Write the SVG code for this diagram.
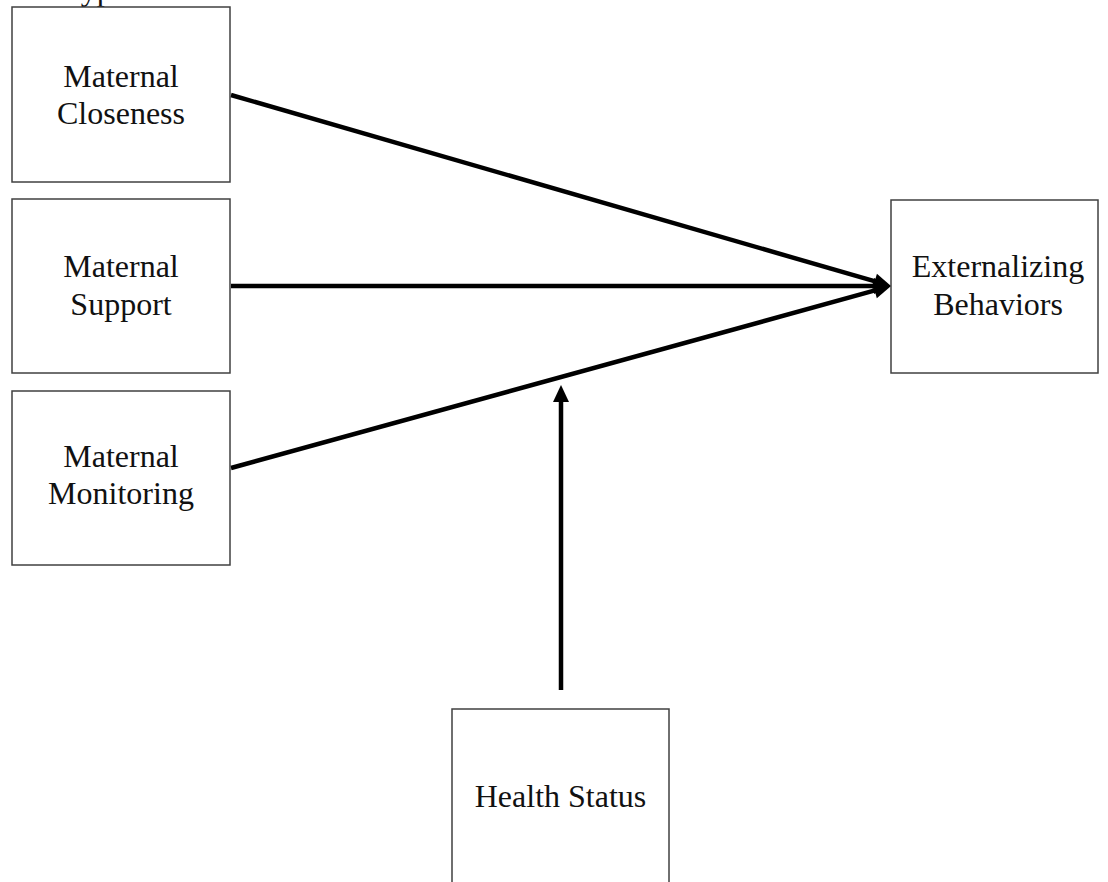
<svg xmlns="http://www.w3.org/2000/svg" width="1108" height="882" viewBox="0 0 1108 882">
<style>
  .box { fill: #ffffff; stroke: #404040; stroke-width: 1.5; }
  .lbl { font-family: "Liberation Serif", "Times New Roman", serif; font-size: 32px; fill: #111111; text-anchor: middle; }
  .title { font-family: "Liberation Serif", "Times New Roman", serif; font-size: 32px; fill: #111111; }
  .conn { stroke: #000000; stroke-width: 4.5; fill: none; marker-end: url(#arrow); }
</style>
<defs>
  <marker id="arrow" markerUnits="userSpaceOnUse" markerWidth="20" markerHeight="20" refX="5" refY="8" orient="auto" overflow="visible">
    <path d="M0,0 L17,8 L0,16 Z" fill="#000000"/>
  </marker>
</defs>
<rect width="1108" height="882" fill="#ffffff"/>
<text class="title" x="0" y="0">The Hypothesized Model</text>

<g id="connectors">
  <line class="conn" x1="231" y1="95" x2="879.5" y2="282.7"/>
  <line class="conn" x1="231" y1="286" x2="879" y2="286"/>
  <line class="conn" x1="231" y1="468" x2="879.5" y2="289.2"/>
  <line class="conn" x1="561" y1="690" x2="561" y2="397"/>
</g>

<g id="node-closeness">
  <rect class="box" x="12" y="7" width="218" height="175"/>
  <text class="lbl" x="121" y="87">Maternal</text>
  <text class="lbl" x="121" y="124">Closeness</text>
</g>
<g id="node-support">
  <rect class="box" x="12" y="199" width="218" height="174"/>
  <text class="lbl" x="121" y="277">Maternal</text>
  <text class="lbl" x="121" y="315">Support</text>
</g>
<g id="node-monitoring">
  <rect class="box" x="12" y="391" width="218" height="174"/>
  <text class="lbl" x="121" y="467">Maternal</text>
  <text class="lbl" x="121" y="504">Monitoring</text>
</g>
<g id="node-externalizing">
  <rect class="box" x="891" y="200" width="207" height="173"/>
  <text class="lbl" x="998" y="277">Externalizing</text>
  <text class="lbl" x="998" y="315">Behaviors</text>
</g>
<g id="node-health">
  <rect class="box" x="452" y="709" width="217" height="200"/>
  <text class="lbl" x="560.5" y="807">Health Status</text>
</g>
</svg>
